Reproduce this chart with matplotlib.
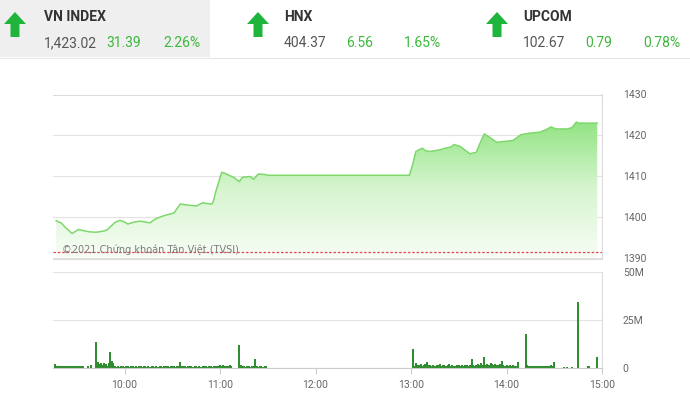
import numpy as np
import pandas as pd
import matplotlib
matplotlib.use("Agg")
import matplotlib.pyplot as plt
import matplotlib.dates as mdates
from matplotlib.colors import LinearSegmentedColormap
from matplotlib.patches import Polygon, Rectangle
from matplotlib.lines import Line2D

# header boxes
idx_names = ["VN INDEX", "HNX", "UPCOM"]
idx_values = ["1,423.02", "404.37", "102.67"]
idx_changes = ["31.39", "6.56", "0.79"]
idx_pcts = ["2.26%", "1.65%", "0.78%"]

# VN-Index intraday (time, points)
price_time = ["09:17", "09:20", "09:23", "09:27", "09:29", "09:31", "09:34", "09:38", "09:42",
              "09:47", "09:49", "09:52", "09:54", "09:57", "10:00", "10:02", "10:06", "10:10",
              "10:13", "10:16", "10:18", "10:20", "10:23", "10:26", "10:31", "10:33", "10:35",
              "10:38", "10:41", "10:45", "10:49", "10:52", "10:55", "10:56", "10:57", "10:59",
              "11:01", "11:03", "11:05", "11:09", "11:12", "11:14", "11:19", "11:21", "11:24",
              "11:28", "11:30", "12:59", "13:01", "13:03", "13:07", "13:09", "13:12", "13:15",
              "13:18", "13:22", "13:25", "13:27", "13:31", "13:34", "13:37", "13:41", "13:43",
              "13:46", "13:49", "13:54", "13:57", "14:00", "14:04", "14:07", "14:09", "14:15",
              "14:21", "14:25", "14:28", "14:31", "14:38", "14:41", "14:44", "14:45", "14:57"]
price_val = [1399.2, 1398.7, 1397.5, 1396.1, 1396.6, 1397.1, 1396.8, 1396.5, 1396.4,
             1396.7, 1397.0, 1398.1, 1398.8, 1399.3, 1398.9, 1398.4, 1398.9, 1399.1,
             1398.9, 1398.7, 1399.3, 1399.75, 1400.2, 1400.6, 1401.1, 1402.2, 1403.3,
             1403.1, 1403.0, 1402.8, 1403.6, 1403.4, 1403.3, 1404.2, 1405.9, 1408.5,
             1411.0, 1410.8, 1410.4, 1409.7, 1408.75, 1409.8, 1410.0, 1409.3, 1410.6,
             1410.5, 1410.3, 1410.3, 1412.9, 1416.1, 1416.9, 1416.3, 1416.1, 1416.3,
             1416.5, 1416.95, 1417.2, 1417.8, 1417.3, 1416.4, 1415.55, 1415.9, 1417.8,
             1420.4, 1419.65, 1418.3, 1418.5, 1418.6, 1418.8, 1419.6, 1420.2, 1420.6,
             1420.8, 1421.45, 1422.1, 1421.6, 1421.6, 1421.9, 1423.3, 1423.02, 1423.02]
ref_price = 1391.63

# volume per minute (millions), morning from 09:16, afternoon from 13:01
vol_am_start = "09:16"
vol_am = [2.0, 1.2, 1.0, 1.1, 1.3, 1.0, 1.2, 1.1, 0.9, 1.2, 1.3, 1.0, 1.1, 1.2, 1.0, 1.3, 1.1, 0.9, 1.0,
          0, 0, 0.8, 0, 1.5, 0, 0,
          13.7, 3.0, 2.2, 2.5, 1.8, 2.4, 2.0, 0.8, 2.6, 8.5, 3.5, 2.5,
          1.0, 0.7, 0.9, 0.6, 0.8, 1.1, 0.7, 0.9, 0.8, 0.6,
          1.0, 0.8, 0.7, 0.9, 0.6, 0.8, 1.0, 0.7, 0.8, 0.9,
          0.6, 0.8, 0.7, 1.0, 0.9, 0.7, 0.8, 0.6, 0.9, 0.8,
          0.7, 1.0, 0.8, 0.9, 0.7, 0.8, 0.9, 0.8, 0.7, 0.9,
          1.1, 3.0, 0.9, 0.8, 1.0, 0.7, 0.9, 0.8, 1.0, 0.7,
          0.8, 0.9, 0.6, 0.8, 0.7, 0.9, 0.8, 1.0, 0.7, 0.8,
          0.9, 0.7, 0.8, 1.2, 0.9, 0.8, 1.5, 0.9, 1.8, 1.0,
          1.2, 0.9, 1.4, 1.0,
          0, 0, 0, 0, 12.0,
          1.5, 0.8, 0.9, 0.7, 0.8, 1.0, 0.7, 0.8, 0.9, 4.5, 0.8, 0.7, 0.9, 0.8, 0.7, 0.9, 1.0]
vol_pm_start = "13:01"
vol_pm = [9.7,
          1.2, 2.5, 1.8, 1.4, 2.0, 1.3, 1.6, 2.2, 3.0, 1.4,
          1.5, 1.2, 1.8, 1.3, 1.6, 1.4, 1.9, 1.2, 1.5, 1.7,
          1.3, 1.4, 2.1, 1.2, 1.5, 1.3, 1.1, 1.4, 1.6, 1.2,
          1.4, 1.3, 1.7, 1.5, 1.2, 1.6, 4.5, 1.4, 1.3, 1.8,
          2.0, 1.5, 2.4, 1.7, 5.5, 1.8, 2.2, 1.6, 2.6, 1.9,
          1.5, 2.3, 1.4, 1.7, 2.0, 3.5, 1.6, 1.2, 1.5, 1.3,
          1.4, 1.2, 1.6, 1.3, 1.1, 3.0,
          0, 0, 0, 0, 17.7,
          1.5, 1.0, 0.9, 1.1, 0.8, 1.0, 0.9, 1.1, 0.8, 1.0, 1.2, 0.9, 1.0, 1.3, 1.1, 1.6, 1.2, 3.3,
          0, 0, 0, 0, 0, 0.5, 0, 0.5, 0, 0, 0.6, 0, 0, 0,
          34.5,
          0, 0, 0, 0, 0, 1.0, 1.0, 0, 0, 0, 0, 5.9]

price_ticks = [1390, 1400, 1410, 1420, 1430]
vol_ticks = [0, 25, 50]
vol_tick_labels = ["0", "25M", "50M"]
hour_ticks = ["10:00", "11:00", "12:00", "13:00", "14:00", "15:00"]

DAY = "2021-11-16 "
def to_dt(lst):
    return pd.to_datetime([DAY + t for t in lst])

W, H = 690, 394
fig = plt.figure(figsize=(W / 100, H / 100), dpi=100)
fig.patch.set_facecolor("white")

def fx(px):
    return px / W

def fy(py):
    return 1 - py / H

tick_font = ["Roboto", "DejaVu Sans"]
head_font = ["Roboto", "DejaVu Sans"]

# ---- header ----
fig.add_artist(Rectangle((0, fy(57)), fx(210), 57 / H, transform=fig.transFigure,
                         facecolor="#efefef", edgecolor="none", zorder=0))
fig.add_artist(Line2D([0, 1], [fy(58), fy(58)], transform=fig.transFigure, color="#e6e6e6", lw=0.8))

arrow_green = "#1fb43c"
val_green = "#3cb83c"
for i, name in enumerate(idx_names):
    cx = [15, 258, 497][i]
    tx = [44, 284, 523][i]
    top, bot = 12, 37
    pts = [(cx, top), (cx + 11, top + 12), (cx + 4.5, top + 12), (cx + 4.5, bot),
           (cx - 4.5, bot), (cx - 4.5, top + 12), (cx - 11, top + 12)]
    fig.add_artist(Polygon([(fx(a), fy(b)) for a, b in pts], closed=True,
                           transform=fig.transFigure, facecolor=arrow_green, edgecolor="none"))
    fig.text(fx(tx), fy(17), name, ha="left", va="center", fontsize=10, color="#333333",
             family=head_font, fontweight="bold")
    fig.text(fx(tx), fy(43), idx_values[i], ha="left", va="center", fontsize=10,
             color="#555555", family=head_font)
    fig.text(fx(tx + 62), fy(43), idx_changes[i], ha="left", va="center", fontsize=10,
             color=val_green, family=head_font)
    fig.text(fx(tx + 157), fy(43), idx_pcts[i], ha="right", va="center", fontsize=10,
             color=val_green, family=head_font)

# ---- price chart ----
left, right = 53, 602
ax = fig.add_axes([fx(left), fy(258.5), (right - left) / W, (258.5 - 94.5) / H])
xt = to_dt(price_time)
xmin = pd.Timestamp(DAY + "09:15")
xmax = pd.Timestamp(DAY + "15:00")

line_c = "#7ed86c"
poly = ax.fill_between(xt, price_val, 1385, color="none", lw=0)
cmap = LinearSegmentedColormap.from_list("g", ["#f8fdf6", "#d6f5cf", "#8fe37f"])
grad = np.linspace(0, 1, 256).reshape(-1, 1)
img = ax.imshow(grad, extent=[mdates.date2num(xt[0]), mdates.date2num(xt[-1]), 1390, 1424],
                aspect="auto", cmap=cmap, origin="lower", zorder=1)
img.set_clip_path(poly.get_paths()[0], transform=ax.transData)
ax.plot(xt, price_val, color=line_c, lw=1.1, zorder=3)
ax.axhline(ref_price, color="#e0435a", lw=0.9, ls=(0, (2, 1.5)), zorder=4)

ax.set_xlim(xmin, xmax)
ax.set_ylim(1390, 1430)
ax.set_yticks(price_ticks)
ax.yaxis.tick_right()
ax.tick_params(axis="y", length=0, pad=15, labelsize=7.5, labelcolor="#666666")
for lab in ax.get_yticklabels():
    lab.set_family(tick_font)
ax.set_xticks([])
ax.grid(axis="y", color="#e3e3e3", lw=0.8)
ax.set_axisbelow(True)
ax.spines["left"].set_visible(False)
for s in ["top", "right", "bottom"]:
    ax.spines[s].set_color("#dcdcdc")
    ax.spines[s].set_linewidth(0.8)
ax.text((62 - left) / (right - left), (258.5 - 250) / 164, "©2021 Chứng khoán Tân Việt (TVSI)",
        transform=ax.transAxes, fontsize=7, color="#7a7a7a", ha="left", va="center",
        family=["DejaVu Sans"], zorder=5)

# ---- volume chart ----
axv = fig.add_axes([fx(left), fy(368), (right - left) / W, (368 - 272) / H])
t_am = pd.date_range(DAY + vol_am_start, periods=len(vol_am), freq="min")
t_pm = pd.date_range(DAY + vol_pm_start, periods=len(vol_pm), freq="min")
bar_c = "#2b8a2b"
axv.vlines(t_am, 0, vol_am, color=bar_c, lw=1.4)
axv.vlines(t_pm, 0, vol_pm, color=bar_c, lw=1.4)
axv.set_xlim(xmin, xmax)
axv.set_ylim(0, 50)
axv.set_yticks(vol_ticks)
axv.set_yticklabels(vol_tick_labels)
axv.yaxis.tick_right()
axv.tick_params(axis="y", length=0, pad=15, labelsize=7.5, labelcolor="#666666")
axv.set_xticks(to_dt(hour_ticks))
axv.xaxis.set_major_formatter(mdates.DateFormatter("%H:%M"))
axv.tick_params(axis="x", length=4, width=0.8, color="#cccccc", pad=5,
                labelsize=7.5, labelcolor="#666666")
for lab in axv.get_yticklabels() + axv.get_xticklabels():
    lab.set_family(tick_font)
axv.grid(axis="y", color="#e3e3e3", lw=0.8)
axv.set_axisbelow(True)
for s in ["left", "top"]:
    axv.spines[s].set_visible(False)
axv.spines["right"].set_color("#dcdcdc")
axv.spines["right"].set_linewidth(0.8)
axv.spines["bottom"].set_color("#cccccc")
axv.spines["bottom"].set_linewidth(0.8)

fig.savefig("out.png", dpi=100)
